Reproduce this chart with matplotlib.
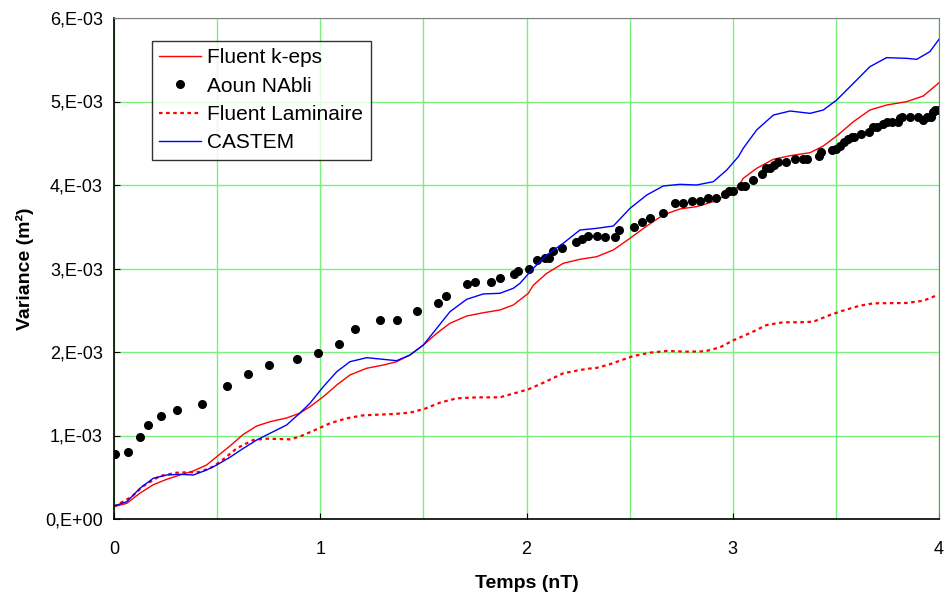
import matplotlib
matplotlib.use("Agg")
import matplotlib.pyplot as plt
from matplotlib.ticker import FixedLocator

plt.rcParams['font.family'] = ['Liberation Sans', 'DejaVu Sans']

# Fluent k-eps (x in nT, y in 1e-3 m²)
keps_x = [0.0, 0.062, 0.126, 0.19, 0.255, 0.32, 0.385, 0.449, 0.498, 0.562, 0.627, 0.692, 0.756,
          0.837, 0.90, 0.95, 1.015, 1.08, 1.144, 1.225, 1.306, 1.37, 1.435, 1.50, 1.565, 1.629,
          1.71, 1.79, 1.871, 1.936, 2.009, 2.033, 2.098, 2.178, 2.259, 2.34, 2.421, 2.502,
          2.583, 2.663, 2.744, 2.825, 2.906, 2.971, 3.027, 3.051, 3.116, 3.197, 3.278, 3.375,
          3.439, 3.504, 3.585, 3.665, 3.746, 3.843, 3.924, 4.0]
keps_y = [0.147, 0.188, 0.31, 0.41, 0.475, 0.527, 0.575, 0.647, 0.746, 0.874, 1.014, 1.114, 1.165,
          1.21, 1.266, 1.345, 1.465, 1.605, 1.725, 1.805, 1.844, 1.884, 1.964, 2.084, 2.224, 2.344,
          2.431, 2.47, 2.503, 2.563, 2.703, 2.80, 2.942, 3.062, 3.110, 3.141, 3.222, 3.362,
          3.509, 3.641, 3.713, 3.741, 3.801, 3.880, 3.98, 4.08, 4.20, 4.308, 4.351, 4.387,
          4.467, 4.587, 4.758, 4.898, 4.958, 4.998, 5.066, 5.225]

# CASTEM
castem_x = [0.0, 0.062, 0.126, 0.19, 0.255, 0.32, 0.385, 0.449, 0.498, 0.562, 0.627, 0.692, 0.756,
            0.837, 0.90, 0.95, 1.015, 1.08, 1.144, 1.225, 1.306, 1.37, 1.435, 1.50, 1.565, 1.629,
            1.71, 1.79, 1.871, 1.936, 1.968, 2.033, 2.098, 2.178, 2.259, 2.34, 2.421, 2.502,
            2.583, 2.663, 2.744, 2.825, 2.906, 2.971, 3.027, 3.051, 3.116, 3.197, 3.278, 3.375,
            3.439, 3.504, 3.585, 3.665, 3.746, 3.843, 3.892, 3.956, 4.0]
castem_y = [0.155, 0.207, 0.368, 0.487, 0.527, 0.535, 0.527, 0.587, 0.647, 0.739, 0.846, 0.946,
            1.026, 1.126, 1.266, 1.386, 1.585, 1.764, 1.884, 1.932, 1.912, 1.896, 1.964, 2.084,
            2.284, 2.483, 2.631, 2.695, 2.703, 2.763, 2.822, 3.002, 3.162, 3.302, 3.461, 3.481,
            3.509, 3.721, 3.880, 3.988, 4.008, 4.000, 4.040, 4.180, 4.339, 4.440, 4.659, 4.838,
            4.886, 4.858, 4.898, 5.018, 5.218, 5.417, 5.525, 5.517, 5.505, 5.597, 5.745]

# Fluent Laminaire
lam_x = [0.0, 0.086, 0.142, 0.223, 0.304, 0.417, 0.481, 0.53, 0.595, 0.675, 0.74, 0.853, 0.90,
         0.975, 1.047, 1.128, 1.209, 1.354, 1.435, 1.508, 1.58, 1.661, 1.759, 1.871, 1.952,
         2.009, 2.082, 2.178, 2.259, 2.30, 2.34, 2.40, 2.453, 2.518, 2.599, 2.680, 2.777, 2.866,
         2.938, 3.003, 3.092, 3.164, 3.245, 3.326, 3.391, 3.471, 3.544, 3.617, 3.682, 3.843,
         3.924, 3.997]
lam_y = [0.15, 0.267, 0.395, 0.515, 0.555, 0.563, 0.627, 0.715, 0.846, 0.946, 0.962, 0.954, 0.986,
         1.066, 1.146, 1.206, 1.242, 1.257, 1.273, 1.321, 1.393, 1.445, 1.457, 1.457, 1.513,
         1.553, 1.632, 1.745, 1.784, 1.80, 1.81, 1.85, 1.896, 1.952, 1.992, 2.012, 2.004, 2.008,
         2.056, 2.140, 2.236, 2.323, 2.356, 2.356, 2.363, 2.443, 2.503, 2.555, 2.583, 2.587,
         2.614, 2.686]

# Aoun NAbli
aoun_x = [0.005, 0.066, 0.126, 0.166, 0.227, 0.306, 0.427, 0.546, 0.648, 0.750, 0.888, 0.990,
          1.09, 1.17, 1.29, 1.37, 1.47, 1.57, 1.61, 1.71, 1.75, 1.83, 1.87, 1.94, 1.96,
          2.01, 2.05, 2.09, 2.11, 2.13, 2.17, 2.24, 2.27, 2.30, 2.34, 2.38, 2.43, 2.45, 2.52,
          2.56, 2.60, 2.66, 2.72, 2.76, 2.80, 2.84, 2.88, 2.92, 2.96, 2.98, 3.00, 3.04, 3.06,
          3.10, 3.14, 3.16, 3.18, 3.20, 3.22, 3.26, 3.30, 3.34, 3.36, 3.42, 3.43, 3.48, 3.50,
          3.52, 3.54, 3.56, 3.58, 3.59, 3.62, 3.66, 3.68, 3.70, 3.73, 3.75, 3.77, 3.80, 3.81,
          3.82, 3.86, 3.90, 3.92, 3.94, 3.96, 3.97, 3.98, 4.00]
aoun_y = [0.78, 0.80, 0.98, 1.13, 1.23, 1.31, 1.38, 1.59, 1.74, 1.84, 1.92, 1.99,
          2.10, 2.27, 2.38, 2.38, 2.49, 2.59, 2.67, 2.81, 2.84, 2.84, 2.89, 2.93, 2.97,
          2.99, 3.10, 3.13, 3.13, 3.21, 3.24, 3.32, 3.35, 3.39, 3.39, 3.38, 3.38, 3.46, 3.50,
          3.56, 3.60, 3.67, 3.78, 3.78, 3.81, 3.81, 3.85, 3.85, 3.89, 3.93, 3.93, 3.99, 3.99,
          4.06, 4.13, 4.20, 4.20, 4.24, 4.27, 4.28, 4.31, 4.31, 4.31, 4.35, 4.39, 4.42, 4.43,
          4.47, 4.51, 4.55, 4.57, 4.58, 4.61, 4.64, 4.69, 4.69, 4.73, 4.75, 4.75, 4.75, 4.80,
          4.82, 4.82, 4.82, 4.78, 4.82, 4.82, 4.87, 4.90, 4.90]

y_ticks = [0, 1, 2, 3, 4, 5, 6]
y_labels = ['0,E+00', '1,E-03', '2,E-03', '3,E-03', '4,E-03', '5,E-03', '6,E-03']
x_ticks = [0, 1, 2, 3, 4]
x_labels = ['0', '1', '2', '3', '4']

scale = 1e-3

fig = plt.figure(figsize=(9.46, 5.94), dpi=100)
ax = fig.add_axes([114/946, 1-519/594, (939-114)/946, (519-18)/594])

grid_c = '#7cf07c'
ax.xaxis.set_minor_locator(FixedLocator([0.5, 1.5, 2.5, 3.5]))
ax.grid(True, which='both', axis='x', color=grid_c, lw=1.0)
ax.grid(True, which='major', axis='y', color=grid_c, lw=1.0)
ax.set_axisbelow(True)

ax.plot(keps_x, [v*scale for v in keps_y], color='#ff0000', lw=1.0, label='Fluent k-eps')
ax.plot(aoun_x, [v*scale for v in aoun_y], 'o', color='black', ms=5.5, label='Aoun NAbli')
ax.plot(lam_x, [v*scale for v in lam_y], color='#ff0000', lw=1.6, ls=(0, (1.6, 1.6)),
        label='Fluent Laminaire')
ax.plot(castem_x, [v*scale for v in castem_y], color='#0000ff', lw=1.0, label='CASTEM')

ax.set_xlim(0, 4)
ax.set_ylim(0, 6*scale)
ax.set_xticks(x_ticks)
ax.set_xticklabels(x_labels)
ax.set_yticks([t*scale for t in y_ticks])
ax.set_yticklabels(y_labels)
ax.tick_params(axis='both', which='major', direction='in', length=4, labelsize=13, pad=8)
ax.tick_params(axis='x', which='minor', length=0)
ax.tick_params(axis='x', pad=16)

for s in ['top', 'right']:
    ax.spines[s].set_color('#808080')
for s in ['left', 'bottom']:
    ax.spines[s].set_color('black')
    ax.spines[s].set_linewidth(1.2)

ax.set_xlabel('Temps (nT)', fontsize=14, fontweight='bold', labelpad=12)
ax.set_ylabel('Variance (m²)', fontsize=14, fontweight='bold', labelpad=8)

leg = ax.legend(loc='upper left', bbox_to_anchor=((152-114)/825, 1-(41-18)/501),
                fontsize=15, frameon=True, fancybox=False, edgecolor='black',
                borderpad=0.35, labelspacing=0.45, handlelength=2.0, handletextpad=0.3,
                borderaxespad=0)
leg.get_frame().set_linewidth(1.0)

fig.savefig('out.png', dpi=100)
